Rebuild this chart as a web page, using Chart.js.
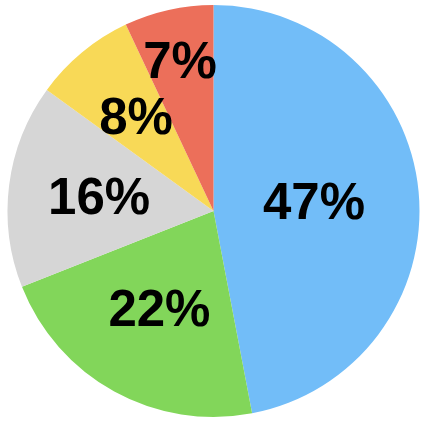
<!DOCTYPE html>
<html>
<head>
<meta charset="utf-8">
<script src="https://cdn.jsdelivr.net/npm/chart.js@4"></script>
<style>
  html, body { margin: 0; padding: 0; background: #fff; }
  canvas { display: block; }
</style>
</head>
<body>
<canvas id="pieChart" width="423" height="423"></canvas>
<script>
// chart data
const categories = ['A', 'B', 'C', 'D', 'E'];
const shares = [47, 22, 16, 8, 7];
const sliceColors = ['#72bdf8', '#82d65a', '#d6d6d6', '#f8d957', '#ec6f5a'];

// how far out (fraction of radius) each label sits
const labelRadius = [0.49, 0.545, 0.56, 0.59, 0.745];

const percentLabels = {
    id: 'percentLabels',
    afterDatasetsDraw(chart) {
        const ctx = chart.ctx;
        const meta = chart.getDatasetMeta(0);
        ctx.save();
        ctx.font = 'bold 51px "Liberation Sans", Arial, sans-serif';
        ctx.fillStyle = '#000';
        ctx.textAlign = 'center';
        ctx.textBaseline = 'middle';
        meta.data.forEach((arc, i) => {
            const p = arc.getProps(['x', 'y', 'startAngle', 'endAngle', 'outerRadius']);
            const mid = (p.startAngle + p.endAngle) / 2;
            const r = p.outerRadius * labelRadius[i];
            // digits sit a little high on a middle baseline, nudge down
            ctx.fillText(shares[i] + '%', p.x + Math.cos(mid) * r, p.y + Math.sin(mid) * r + 3);
        });
        ctx.restore();
    }
};

document.addEventListener('DOMContentLoaded', () => {
    const ctx = document.getElementById('pieChart').getContext('2d');
    new Chart(ctx, {
        type: 'pie',
        data: {
            labels: categories,
            datasets: [{
                data: shares,
                backgroundColor: sliceColors,
                borderWidth: 0
            }]
        },
        options: {
            responsive: false,
            animation: false,
            layout: {
                padding: { left: 7, right: 3, top: 5, bottom: 6 }
            },
            plugins: {
                legend: { display: false },
                tooltip: { enabled: false }
            }
        },
        plugins: [percentLabels]
    });
});
</script>
</body>
</html>
